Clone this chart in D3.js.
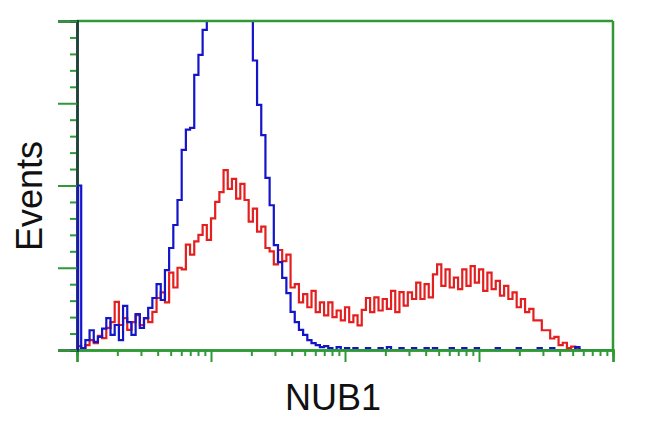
<!DOCTYPE html>
<html>
<head>
<meta charset="utf-8">
<script src="https://cdn.jsdelivr.net/npm/d3@7/dist/d3.min.js"></script>
<style>
html,body{margin:0;padding:0;background:#fff;}
svg{display:block;}
</style>
</head>
<body>
<svg id="chart" width="650" height="432"></svg>
<script>
// ---- data (counts per channel, 128 log-spaced channels over 4 decades) ----
const xLabel = "NUB1";
const yLabel = "Events";
const xDomain = [1, 10000];
const yDomain = [0, 100];
const yMajorTicks = [0, 25, 50, 75, 100];
const yMinorStep = 5;
const blueCounts = [
  50, 0.6, 3, 6, 2.5, 4, 6.5, 9.7, 4.6, 7.6,
  3, 13.4, 8.5, 4.6, 10.9, 6.7, 9.7, 12.8, 15.8, 20,
  15.2, 24.3, 31, 38, 45.6, 60.8, 67, 67.5, 83.6, 89.7,
  97.3, 110, 125, 140, 150, 155, 150, 145, 135, 125,
  115, 102, 88, 74.5, 65.3, 52.3, 44, 31.9, 26.7, 21.9,
  17.3, 11.6, 8.5, 6.1, 4.6, 3, 2.1, 1.5, 0.9, 1.2,
  0.6, 0, 0.9, 0, 0.6, 0, 0.6, 0, 0, 0.6,
  0, 0, 0.6, 0, 0.9, 0, 0, 0.6, 0, 0,
  0.6, 0, 0, 0.6, 0, 0.6, 0, 0, 0, 0.6,
  0, 0, 0.6, 0, 0, 0.6, 0, 0, 0, 0,
  0.6, 0, 0, 0, 0, 0.6, 0, 0, 0, 0,
  0.6, 0, 0, 0.6, 0, 0, 0, 0, 0, 0.9,
  0, 0, 0, 0, 0, 0, 0, 0
];
const redCounts = [
  1.2, 0.6, 1.5, 3, 2.1, 4.3, 3.6, 6.7, 8.5, 14.6,
  7.6, 9.7, 6.1, 8.5, 10.6, 7.6, 9.7, 8.5, 11.6, 15.8,
  17.5, 14.5, 23.5, 19, 25, 24.5, 32, 29, 33, 35,
  38, 33.5, 40, 45, 48, 54.7, 49, 52, 46, 50.5,
  45.6, 39, 43, 36, 37.5, 31, 30, 26, 30.4, 27,
  29, 19, 20, 14.5, 17, 13, 18, 11.5, 14.5, 10.5,
  14.5, 10, 12, 9, 13, 8.5, 10.5, 7.5, 12.2, 15.8,
  11.5, 16, 12, 15.5, 12.5, 18, 11.5, 17.6, 13.5, 17.5,
  15.5, 20.5, 15.5, 20, 16, 23, 26, 19.5, 24.5, 19,
  22, 18.5, 24.5, 19.5, 25.5, 20.5, 24.5, 18, 23.5, 18.5,
  21, 16.5, 19.5, 15.5, 17.5, 13, 15.5, 11.5, 12.5, 9,
  9, 6, 6, 3.5, 4, 1.5, 2.2, 0.6, 1, 0.3,
  0, 0, 0, 0, 0, 0, 0, 0
];

// ---- layout ----
const L = 77, R = 613, T = 21, B = 350;
const green = "#2f9a35";
const svg = d3.select("#chart");

const x = d3.scaleLog().domain(xDomain).range([L, R]);
const y = d3.scaleLinear().domain(yDomain).range([B, T]);

const nBins = blueCounts.length;
const decades = Math.log10(xDomain[1] / xDomain[0]);
const binStart = i => xDomain[0] * Math.pow(10, decades * i / nBins);

function stepPoints(counts) {
  const pts = counts.map((c, i) => [x(binStart(i)), y(c)]);
  pts.push([x(binStart(counts.length)), y(counts[counts.length - 1])]);
  pts.unshift([x(binStart(0)), y(0)]);
  return pts;
}

svg.append("defs").append("clipPath").attr("id", "plotclip")
  .append("rect").attr("x", L).attr("y", T).attr("width", R - L).attr("height", B - T);

const line = d3.line().curve(d3.curveStepAfter);
const g = svg.append("g").attr("clip-path", "url(#plotclip)");
g.append("path").attr("d", line(stepPoints(redCounts)))
  .attr("fill", "none").attr("stroke", "#e3201f").attr("stroke-width", 2.2);
g.append("path").attr("d", line(stepPoints(blueCounts)))
  .attr("fill", "none").attr("stroke", "#1414c8").attr("stroke-width", 2.2);

// ---- frame ----
svg.append("line").attr("x1", L).attr("x2", R).attr("y1", T).attr("y2", T)
  .attr("stroke", green).attr("stroke-width", 2.5);
svg.append("line").attr("x1", R).attr("x2", R).attr("y1", T).attr("y2", B)
  .attr("stroke", green).attr("stroke-width", 2.5);

// ---- x axis (log) ----
const xMajor = [1, 10, 100, 1000, 10000];
const xMinor = [];
for (let d = 1; d < 10000; d *= 10) for (let k = 2; k <= 9; k++) xMinor.push(d * k);
const xAxisMinor = d3.axisBottom(x).tickValues(xMinor).tickSize(6).tickFormat("");
const xAxisMajor = d3.axisBottom(x).tickValues(xMajor).tickSize(12).tickFormat("");
[xAxisMinor, xAxisMajor].forEach(ax => {
  const ga = svg.append("g").attr("transform", `translate(0,${B})`).call(ax);
  ga.selectAll("line").attr("stroke", green).attr("stroke-width", 2);
  ga.select(".domain").attr("stroke", green).attr("stroke-width", 2.5);
});

// ---- y axis ----
const yMinor = d3.range(yDomain[0], yDomain[1] + 0.001, yMinorStep).filter(v => !yMajorTicks.includes(v));
const yAxisMinor = d3.axisLeft(y).tickValues(yMinor).tickSize(7).tickFormat("");
const yAxisMajor = d3.axisLeft(y).tickValues(yMajorTicks).tickSize(19).tickFormat("");
[yAxisMinor, yAxisMajor].forEach(ax => {
  const ga = svg.append("g").attr("transform", `translate(${L},0)`).call(ax);
  ga.selectAll("line").attr("stroke", green).attr("stroke-width", 2);
  ga.select(".domain").attr("stroke", "#1d4038").attr("stroke-width", 2.5);
});
// blue overlay of left edge channel
svg.append("line").attr("x1", L + 1).attr("x2", L + 1).attr("y1", y(blueCounts[0])).attr("y2", B)
  .attr("stroke", "#1414c8").attr("stroke-width", 2.5);

// ---- labels ----
svg.append("text").text(xLabel)
  .attr("x", 333).attr("y", 410).attr("text-anchor", "middle")
  .attr("font-family", "Liberation Sans, Arial, sans-serif").attr("font-size", 36).attr("fill", "#111");
svg.append("text").text(yLabel)
  .attr("transform", "translate(42,196) rotate(-90)").attr("text-anchor", "middle")
  .attr("font-family", "Liberation Sans, Arial, sans-serif").attr("font-size", 36).attr("fill", "#111");
</script>
</body>
</html>
